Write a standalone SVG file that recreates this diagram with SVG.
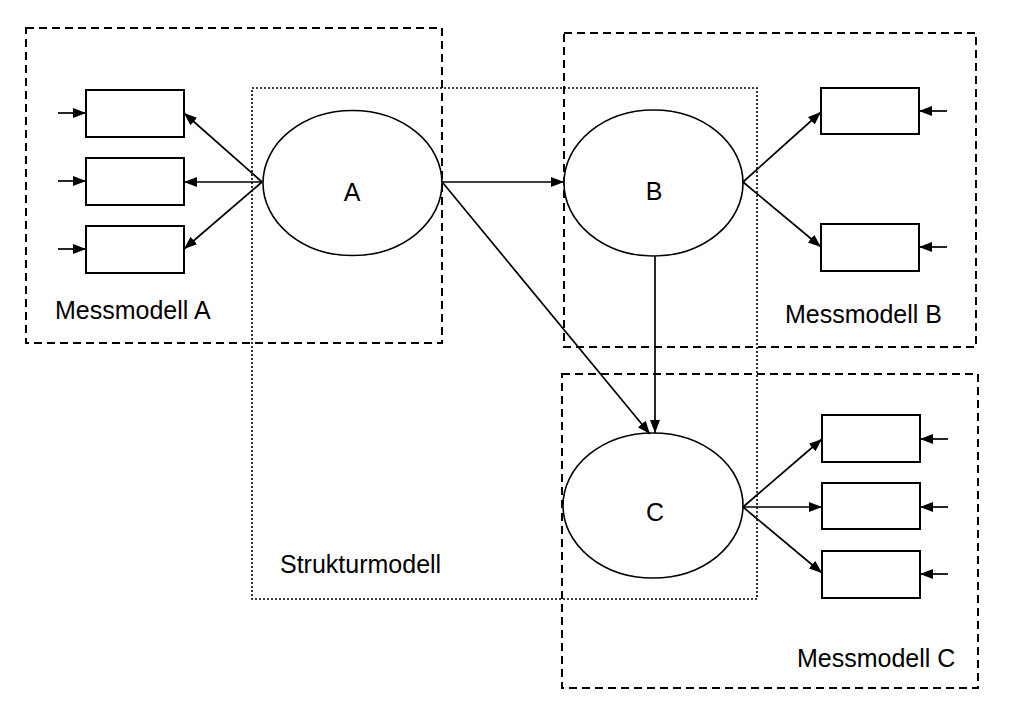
<svg xmlns="http://www.w3.org/2000/svg" width="1010" height="716" viewBox="0 0 1010 716">
<style>
.dash{fill:none;stroke:#000;stroke-width:2;stroke-dasharray:8 5}
.dot{fill:none;stroke:#000;stroke-width:1.6;stroke-dasharray:2 2}
.box{fill:#fff;stroke:#000;stroke-width:2}
.ell{fill:#fff;stroke:#000;stroke-width:1.6}
.lbl{font-family:"Liberation Sans",Arial,sans-serif;font-size:25px;fill:#000}
.cen{text-anchor:middle}
.con line{stroke:#000;stroke-width:1.7;marker-end:url(#ah)}
</style>
<defs>
<marker id="ah" markerUnits="userSpaceOnUse" markerWidth="14" markerHeight="11" refX="13" refY="5" orient="auto">
<path d="M0,0 L13,5 L0,10 z" fill="#000"/>
</marker>
</defs>
<rect width="1010" height="716" fill="#fff"/>
<g id="messmodell-a"><rect class="dash" x="26" y="28" width="416" height="315"/><text class="lbl" x="55" y="319">Messmodell A</text></g>
<g id="messmodell-b"><rect class="dash" x="564" y="33" width="412" height="314"/><text class="lbl" x="785" y="323">Messmodell B</text></g>
<g id="messmodell-c"><rect class="dash" x="562" y="374" width="416" height="314"/><text class="lbl" x="797" y="667">Messmodell C</text></g>
<g id="strukturmodell"><rect class="dot" x="252" y="88" width="505" height="511"/><text class="lbl" x="280" y="573">Strukturmodell</text></g>
<g id="a-ind1"><rect class="box" x="86" y="90" width="98" height="47"/></g>
<g id="a-ind2"><rect class="box" x="86" y="158" width="98" height="47"/></g>
<g id="a-ind3"><rect class="box" x="86" y="226" width="98" height="47"/></g>
<g id="b-ind1"><rect class="box" x="821" y="88" width="98" height="46"/></g>
<g id="b-ind2"><rect class="box" x="821" y="224" width="98" height="47"/></g>
<g id="c-ind1"><rect class="box" x="822" y="415" width="98" height="47"/></g>
<g id="c-ind2"><rect class="box" x="822" y="483" width="98" height="46"/></g>
<g id="c-ind3"><rect class="box" x="822" y="551" width="98" height="47"/></g>
<g id="node-a"><ellipse class="ell" cx="352.5" cy="183" rx="89.5" ry="72.5"/><text class="lbl cen" x="352" y="201">A</text></g>
<g id="node-b"><ellipse class="ell" cx="653.5" cy="183" rx="89.5" ry="73"/><text class="lbl cen" x="654" y="200">B</text></g>
<g id="node-c"><ellipse class="ell" cx="653" cy="505.5" rx="90" ry="72.5"/><text class="lbl cen" x="655" y="521">C</text></g>
<g id="connectors" class="con">
<line x1="58" y1="113" x2="86" y2="113"/>
<line x1="58" y1="181" x2="86" y2="181"/>
<line x1="58" y1="249" x2="86" y2="249"/>
<line x1="262" y1="182" x2="184" y2="113"/>
<line x1="262" y1="182" x2="184" y2="182"/>
<line x1="262" y1="182" x2="184" y2="249"/>
<line x1="442" y1="182" x2="564" y2="182"/>
<line x1="443" y1="183" x2="650" y2="434"/>
<line x1="655" y1="256" x2="655" y2="433"/>
<line x1="743" y1="182" x2="821" y2="112"/>
<line x1="743" y1="182" x2="821" y2="247"/>
<line x1="947" y1="111" x2="919" y2="111"/>
<line x1="947" y1="247" x2="919" y2="247"/>
<line x1="743" y1="507" x2="822" y2="439"/>
<line x1="743" y1="507" x2="822" y2="507"/>
<line x1="743" y1="507" x2="822" y2="573"/>
<line x1="948" y1="439" x2="920" y2="439"/>
<line x1="948" y1="507" x2="920" y2="507"/>
<line x1="948" y1="574" x2="920" y2="574"/>
</g>
</svg>
